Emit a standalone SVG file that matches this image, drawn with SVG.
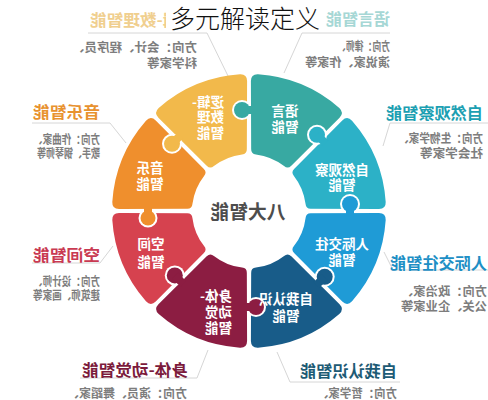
<svg xmlns="http://www.w3.org/2000/svg" xmlns:xlink="http://www.w3.org/1999/xlink" width="488" height="400" viewBox="0 0 488 400">
<style>
text{font-family:"Noto Sans CJK SC","Noto Sans",sans-serif;font-weight:700}
.lbl{fill:#fff;font-size:13.5px}
.ttl{font-size:16px}
.dsc{fill:#7d7d7d;font-size:12px}
.cl{fill:none;stroke:#d6d6d6;stroke-width:1}
.kw{fill:#fff}
.nk{stroke-width:8;fill:none}
</style>
<defs>
<path id="seg" d="M120.82,-47.98 Q127.33,-50.57 129.74,-43.99 A137,137 0 0 1 129.74,43.99 Q127.33,50.57 120.82,47.98 L58.08,21.71 Q53.39,19.96 54.93,15.23 A57,57 0 0 0 54.93,-15.23 Q53.39,-19.96 58.08,-21.71 Z"/>
</defs>
<rect width="488" height="400" fill="#fff"/>

<g id="connectors">
<polyline class="cl" points="88,33 207,33 229,78"/>
<polyline class="cl" points="390,33 302,33 284,73"/>
<polyline class="cl" points="32,123 110,123 126,143"/>
<polyline class="cl" points="488,123 390,123 383,146"/>
<polyline class="cl" points="32,263 100,263 113,246"/>
<polyline class="cl" points="488,270 393,270 384,252"/>
<polyline class="cl" points="80,378 197,378 208,350"/>
<polyline class="cl" points="400,382 290,382 277,352"/>
</g>

<g id="yuyan">
<use xlink:href="#seg" transform="translate(249,211) rotate(-67.5)" fill="#38a9a2"/>
</g>
<g id="ziran">
<use xlink:href="#seg" transform="translate(249,211) rotate(-22.5)" fill="#2cb1c7"/>
</g>
<g id="renji">
<use xlink:href="#seg" transform="translate(249,211) rotate(22.5)" fill="#1f9bd6"/>
</g>
<g id="ziwo">
<use xlink:href="#seg" transform="translate(249,211) rotate(67.5)" fill="#185c89"/>
</g>
<g id="shenti">
<use xlink:href="#seg" transform="translate(249,211) rotate(112.5)" fill="#8c1d42"/>
</g>
<g id="kongjian">
<use xlink:href="#seg" transform="translate(249,211) rotate(157.5)" fill="#d6424f"/>
</g>
<g id="yinyue">
<use xlink:href="#seg" transform="translate(249,211) rotate(202.5)" fill="#ef8f2d"/>
</g>
<g id="luoji">
<use xlink:href="#seg" transform="translate(249,211) rotate(247.5)" fill="#f2b94b"/>
</g>

<g id="knobs">
<circle class="kw" cx="242" cy="110" r="10"/><circle cx="242" cy="110" r="8" fill="#38a9a2"/><line class="nk" x1="254" y1="110" x2="242" y2="110" stroke="#38a9a2"/>
<circle class="kw" cx="172" cy="143.8" r="10"/><circle cx="172" cy="143.8" r="8" fill="#f2b94b"/><line class="nk" x1="180.4" y1="135.4" x2="172" y2="143.8" stroke="#f2b94b"/>
<circle class="kw" cx="317" cy="134.8" r="10"/><circle cx="317" cy="134.8" r="8" fill="#2cb1c7"/><line class="nk" x1="325.3" y1="143.1" x2="317" y2="134.8" stroke="#2cb1c7"/>
<circle class="kw" cx="350" cy="204" r="10"/><circle cx="350" cy="204" r="8" fill="#1f9bd6"/><line class="nk" x1="350" y1="216" x2="350" y2="204" stroke="#1f9bd6"/>
<circle class="kw" cx="148" cy="218" r="9.5"/><circle cx="148" cy="218" r="7.5" fill="#ef8f2d"/><line class="nk" x1="148" y1="206" x2="148" y2="218" stroke="#ef8f2d"/>
<circle class="kw" cx="174.8" cy="275.4" r="10"/><circle cx="174.8" cy="275.4" r="8" fill="#8c1d42"/><line class="nk" x1="183.2" y1="283.8" x2="174.8" y2="275.4" stroke="#8c1d42"/>
<circle class="kw" cx="256" cy="307" r="10"/><circle cx="256" cy="307" r="8" fill="#8c1d42"/><line class="nk" x1="244" y1="307" x2="256" y2="307" stroke="#8c1d42"/>
<circle class="kw" cx="324.7" cy="276.8" r="10"/><circle cx="324.7" cy="276.8" r="8" fill="#185c89"/><line class="nk" x1="316.2" y1="285.2" x2="324.7" y2="276.8" stroke="#185c89"/>
</g>

<g id="labels-ring">
<g transform="translate(285,0) scale(-1,1)"><text class="lbl" x="0" y="116" text-anchor="middle">语言</text><text class="lbl" x="0" y="132" text-anchor="middle">智能</text></g>
<g transform="translate(342,0) scale(-1,1)"><text class="lbl" x="0" y="175" text-anchor="middle" font-size="13">自然观察</text><text class="lbl" x="0" y="190" text-anchor="middle">智能</text></g>
<g transform="translate(342,0) scale(-1,1)"><text class="lbl" x="0" y="249" text-anchor="middle" font-size="13">人际交往</text><text class="lbl" x="0" y="265" text-anchor="middle">智能</text></g>
<g transform="translate(286,0) scale(-1,1)"><text class="lbl" x="0" y="304" text-anchor="middle" font-size="13">自我认识</text><text class="lbl" x="0" y="321" text-anchor="middle">智能</text></g>
<g transform="translate(232,0) scale(-1,1)"><text class="lbl" x="0" y="301">身体-</text><text class="lbl" x="0" y="317">动觉</text><text class="lbl" x="0" y="333">智能</text></g>
<g transform="translate(151,0) scale(-1,1)"><text class="lbl" x="0" y="249" text-anchor="middle">空间</text><text class="lbl" x="0" y="267" text-anchor="middle">智能</text></g>
<g transform="translate(150,0) scale(-1,1)"><text class="lbl" x="0" y="173" text-anchor="middle">音乐</text><text class="lbl" x="0" y="189" text-anchor="middle">智能</text></g>
<g transform="translate(224,0) scale(-1,1)"><text class="lbl" x="0" y="107">逻辑-</text><text class="lbl" x="0" y="122">数理</text><text class="lbl" x="0" y="138">智能</text></g>
</g>

<g id="center">
<g transform="translate(248,0) scale(-1,1)"><text x="0" y="219" text-anchor="middle" font-size="19" fill="#4d4d4d" textLength="75" lengthAdjust="spacingAndGlyphs">八大智能</text></g>
</g>

<g id="callout-luoji">
<g transform="translate(196,0) scale(-1,1)"><text class="ttl" x="0" y="26" font-size="15" fill="#f0cf8f" textLength="106" lengthAdjust="spacingAndGlyphs">逻辑-数理智能</text></g>
<g transform="translate(197,0) scale(-1,1)"><text class="dsc" x="0" y="52" textLength="125" lengthAdjust="spacingAndGlyphs">方向：会计、程序员、</text><text class="dsc" x="0" y="68" textLength="50" lengthAdjust="spacingAndGlyphs">科学家等</text></g>
</g>
<g id="callout-yuyan">
<g transform="translate(390,0) scale(-1,1)"><text class="ttl" x="0" y="25" font-size="15" fill="#a6d7d5" textLength="64" lengthAdjust="spacingAndGlyphs">语言智能</text>
<text class="dsc" x="0" y="51" font-size="11" textLength="53" lengthAdjust="spacingAndGlyphs">方向：律师、</text><text class="dsc" x="0" y="67" textLength="85" lengthAdjust="spacingAndGlyphs">演说家、作家等</text></g>
</g>
<g id="callout-yinyue">
<g transform="translate(100,0) scale(-1,1)"><text class="ttl" x="0" y="118" fill="#e8922f" textLength="67" lengthAdjust="spacingAndGlyphs">音乐智能</text>
<text class="dsc" x="0" y="144" font-size="11" textLength="67" lengthAdjust="spacingAndGlyphs">方向：作曲家、</text><text class="dsc" x="0" y="158" font-size="11" textLength="63" lengthAdjust="spacingAndGlyphs">歌手、钢琴师等</text></g>
</g>
<g id="callout-ziran">
<g transform="translate(483,0) scale(-1,1)"><text class="ttl" x="0" y="119" fill="#1c9fb2" textLength="97" lengthAdjust="spacingAndGlyphs">自然观察智能</text>
<text class="dsc" x="0" y="143" textLength="85" lengthAdjust="spacingAndGlyphs">方向：生物学家、</text><text class="dsc" x="0" y="158" textLength="63" lengthAdjust="spacingAndGlyphs">社会学家等</text></g>
</g>
<g id="callout-kongjian">
<g transform="translate(100,0) scale(-1,1)"><text class="ttl" x="0" y="261" fill="#c93a52" textLength="67" lengthAdjust="spacingAndGlyphs">空间智能</text>
<text class="dsc" x="0" y="286" font-size="11" textLength="67" lengthAdjust="spacingAndGlyphs">方向：设计师、</text><text class="dsc" x="0" y="300" font-size="11" textLength="67" lengthAdjust="spacingAndGlyphs">建筑师、画家等</text></g>
</g>
<g id="callout-renji">
<g transform="translate(487,0) scale(-1,1)"><text class="ttl" x="0" y="269" fill="#1d8fc5" textLength="97" lengthAdjust="spacingAndGlyphs">人际交往智能</text>
<text class="dsc" x="0" y="296" font-size="13" textLength="86" lengthAdjust="spacingAndGlyphs">方向：政治家、</text><text class="dsc" x="0" y="311" font-size="13" textLength="86" lengthAdjust="spacingAndGlyphs">公关、企业家等</text></g>
</g>
<g id="callout-shenti">
<g transform="translate(188,0) scale(-1,1)"><text class="ttl" x="0" y="376" fill="#7c1b3c" textLength="106" lengthAdjust="spacingAndGlyphs">身体-动觉智能</text>
<text class="dsc" x="1" y="398" textLength="120" lengthAdjust="spacingAndGlyphs">方向：演员、舞蹈家、</text></g>
</g>
<g id="callout-ziwo">
<g transform="translate(397,0) scale(-1,1)"><text class="ttl" x="0" y="377" fill="#1d5b75" textLength="97" lengthAdjust="spacingAndGlyphs">自我认识智能</text>
<text class="dsc" x="0" y="398" textLength="80" lengthAdjust="spacingAndGlyphs">方向：哲学家、</text></g>
</g>

<g id="title">
<rect x="166" y="0" width="158" height="32" fill="#fff"/>
<text x="170" y="28" font-size="25" fill="#111" textLength="150" lengthAdjust="spacingAndGlyphs" style="font-weight:300">多元解读定义</text>
</g>
</svg>
